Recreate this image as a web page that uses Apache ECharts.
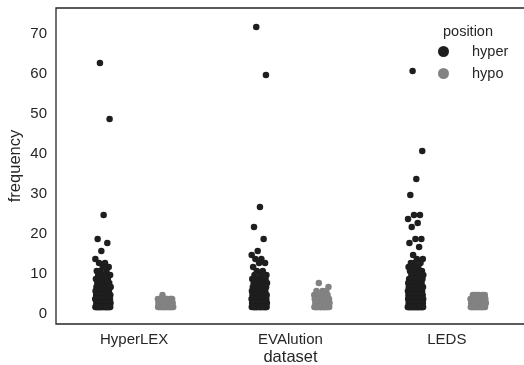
<!DOCTYPE html>
<html>
<head>
<meta charset="utf-8">
<script src="https://cdn.jsdelivr.net/npm/echarts@6/dist/echarts.min.js"></script>
<style>
  html, body { margin: 0; padding: 0; background: #fff; }
  #chart { width: 524px; height: 365px; }
</style>
</head>
<body>
<div id="chart"></div>
<script>
// datasets along the x axis
const categories = ['HyperLEX', 'EVAlution', 'LEDS'];

// [frequency, number of points]
const hyperlexHyper = [[62, 1], [48, 1], [24, 1], [18, 1], [17, 1], [15, 1], [13, 1], [12, 2], [11, 2], [10, 3], [9, 3], [8, 4], [7, 6], [6, 9], [5, 11], [4, 13], [3, 15], [2, 17], [1, 20]];
const hyperlexHypo = [[4, 1], [3, 10], [2, 14], [1, 16]];

const evalutionHyper = [[71, 1], [59, 1], [26, 1], [21, 1], [18, 1], [15, 1], [14, 1], [13, 2], [12, 2], [11, 1], [10, 2], [9, 4], [8, 5], [7, 6], [6, 8], [5, 10], [4, 12], [3, 14], [2, 16], [1, 18]];
const evalutionHypo = [[7, 1], [6, 1], [5, 3], [4, 8], [3, 12], [2, 14], [1, 16]];

const ledsHyper = [[60, 1], [40, 1], [33, 1], [29, 1], [24, 2], [23, 1], [22, 1], [21, 1], [18, 2], [17, 1], [16, 1], [14, 1], [13, 2], [12, 3], [11, 3], [10, 4], [9, 5], [8, 7], [7, 8], [6, 10], [5, 12], [4, 14], [3, 16], [2, 18], [1, 22]];
const ledsHypo = [[4, 6], [3, 12], [2, 14], [1, 16]];

const JITTER = 0.05;
const DODGE = 0.2;

// spread points of one strip sideways (deterministic jitter)
function strip(pairs, cat, dodge) {
  const pts = [];
  let k = 0;
  pairs.forEach(([v, n]) => {
    for (let i = 0; i < n; i++) {
      const u = (k * 0.6180339887 + 0.31) % 1;
      pts.push([cat + dodge + (u * 2 - 1) * JITTER, v]);
      k++;
    }
  });
  return pts;
}

const hyperPoints = [
  ...strip(hyperlexHyper, 0, -DODGE),
  ...strip(evalutionHyper, 1, -DODGE),
  ...strip(ledsHyper, 2, -DODGE),
];
const hypoPoints = [
  ...strip(hyperlexHypo, 0, DODGE),
  ...strip(evalutionHypo, 1, DODGE),
  ...strip(ledsHypo, 2, DODGE),
];

const textColor = '#262626';
const font = '"Liberation Sans", Arial, sans-serif';

const chart = echarts.init(document.getElementById('chart'), null, { renderer: 'canvas' });

chart.setOption({
  animation: false,
  textStyle: { fontFamily: font },
  title: {
    text: 'position',
    left: 443,
    top: 24,
    padding: 0,
    textStyle: { fontSize: 14.5, fontWeight: 'normal', color: textColor, fontFamily: font },
  },
  legend: {
    orient: 'vertical',
    left: 438,
    top: 44,
    padding: 0,
    itemWidth: 11,
    itemHeight: 11,
    itemGap: 7,
    icon: 'circle',
    textStyle: { fontSize: 14.5, color: textColor, padding: [0, 0, 0, 18] },
    data: ['hyper', 'hypo'],
  },
  grid: {
    left: 56,
    top: 8,
    right: -1,
    bottom: 41,
    show: true,
    borderColor: textColor,
    borderWidth: 1.3,
    outerBoundsMode: 'none',
  },
  xAxis: {
    type: 'value',
    min: -0.5,
    max: 2.5,
    interval: 0.5,
    axisLine: { show: false },
    axisTick: { show: false },
    splitLine: { show: false },
    axisLabel: {
      color: textColor,
      fontSize: 15,
      margin: 8,
      showMinLabel: false,
      showMaxLabel: false,
      formatter: (v) => (Number.isInteger(v) ? categories[v] : ''),
    },
    name: 'dataset',
    nameLocation: 'middle',
    nameGap: 25,
    nameMoveOverlap: false,
    nameTextStyle: { color: textColor, fontSize: 16.5 },
  },
  yAxis: {
    type: 'value',
    min: -3.25,
    max: 75.75,
    splitNumber: 8,
    axisLine: { show: false },
    axisTick: { show: false },
    splitLine: { show: false },
    axisLabel: {
      color: textColor,
      fontSize: 15,
      margin: 9,
      lineHeight: 20,
      verticalAlign: 'top',
      padding: [-7, 0, 0, 0],
      showMinLabel: false,
      showMaxLabel: false,
      formatter: (v) => (Math.abs(v % 10) < 1e-9 ? String(v) : ''),
    },
    name: 'frequency',
    nameLocation: 'middle',
    nameGap: 32,
    nameMoveOverlap: false,
    nameTextStyle: { color: textColor, fontSize: 16.5 },
  },
  series: [
    {
      name: 'hyper',
      type: 'scatter',
      symbolSize: 6.5,
      itemStyle: { color: '#1e1e1e', opacity: 1 },
      data: hyperPoints,
    },
    {
      name: 'hypo',
      type: 'scatter',
      symbolSize: 6.5,
      itemStyle: { color: '#828282', opacity: 1 },
      data: hypoPoints,
    },
  ],
});
</script>
</body>
</html>
